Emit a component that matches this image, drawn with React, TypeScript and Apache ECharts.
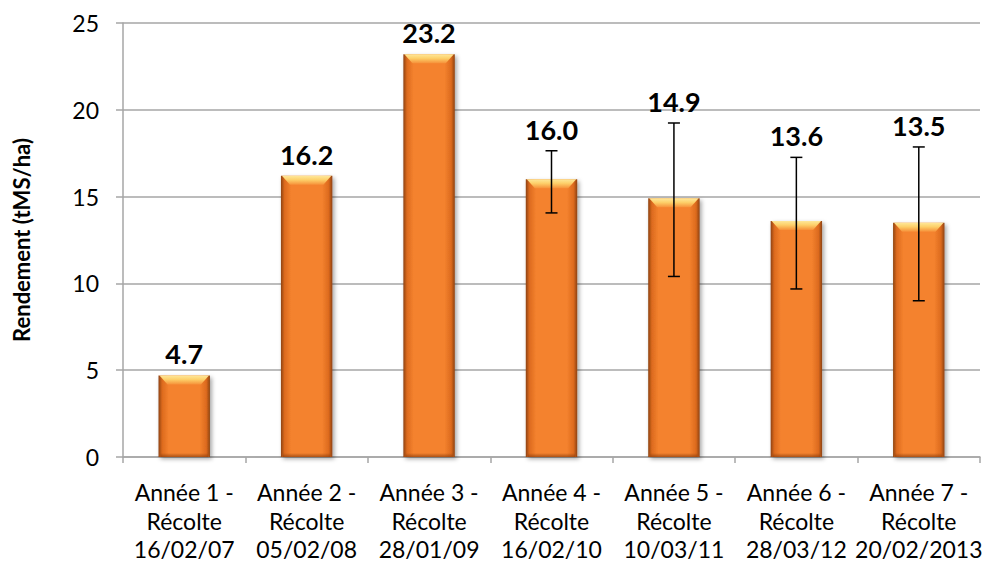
import React, { useEffect, useRef } from "react";
import * as echarts from "echarts";

const categories = [
  "Année 1 -\nRécolte\n16/02/07",
  "Année 2 -\nRécolte\n05/02/08",
  "Année 3 -\nRécolte\n28/01/09",
  "Année 4 -\nRécolte\n16/02/10",
  "Année 5 -\nRécolte\n10/03/11",
  "Année 6 -\nRécolte\n28/03/12",
  "Année 7 -\nRécolte\n20/02/2013",
];
const yields = [4.7, 16.2, 23.2, 16.0, 14.9, 13.6, 13.5];
const errLow: (number | null)[] = [null, null, null, 14.06, 10.4, 9.68, 9.0];
const errHigh: (number | null)[] = [null, null, null, 17.64, 19.24, 17.26, 17.86];
const yTicks = [0, 5, 10, 15, 20, 25];

const FONT = "Lato, 'Noto Sans', sans-serif";

export default function App() {
  const ref = useRef<HTMLDivElement>(null);
  useEffect(() => {
    if (!ref.current) return;
    const chart = echarts.init(ref.current, null, { renderer: "svg" });
    const barGrad = new echarts.graphic.LinearGradient(0, 0, 1, 0, [
      { offset: 0, color: "#8e4210" },
      { offset: 0.07, color: "#dc6a1e" },
      { offset: 0.2, color: "#f4822e" },
      { offset: 0.8, color: "#f4822e" },
      { offset: 0.93, color: "#dc6a1e" },
      { offset: 1, color: "#8e4210" },
    ]);
    const customData = yields.map((v, i) => [i, v, errLow[i] ?? NaN, errHigh[i] ?? NaN]);
    chart.setOption({
      animation: false,
      grid: { left: 123, right: 6, top: 23, bottom: 108, containLabel: false },
      xAxis: {
        type: "category",
        data: categories,
        axisLine: { lineStyle: { color: "#a6a6a6", width: 1.5 } },
        axisTick: { show: true, length: 6, lineStyle: { color: "#a6a6a6", width: 1.5 } },
        axisLabel: {
          color: "#000",
          fontFamily: FONT,
          fontSize: 23,
          lineHeight: 28.5,
          margin: 21,
          interval: 0,
        },
      },
      yAxis: {
        type: "value",
        min: yTicks[0],
        max: yTicks[yTicks.length - 1],
        interval: 5,
        name: "Rendement (tMS/ha)",
        nameLocation: "middle",
        nameRotate: 90,
        nameGap: 91,
        nameTextStyle: { color: "#000", fontFamily: FONT, fontSize: 22, fontWeight: "bold" },
        axisLine: { show: true, lineStyle: { color: "#a6a6a6", width: 1.5 } },
        axisTick: { show: true, length: 7, lineStyle: { color: "#a6a6a6", width: 1.5 } },
        axisLabel: { color: "#000", fontFamily: FONT, fontSize: 23, margin: 24 },
        splitLine: { lineStyle: { color: "#a6a6a6", width: 1.5 } },
      },
      series: [
        {
          type: "bar",
          data: yields,
          barWidth: "42%",
          itemStyle: {
            color: barGrad,
            shadowColor: "rgba(0,0,0,0.35)",
            shadowBlur: 4,
            shadowOffsetX: 2,
            shadowOffsetY: 2,
          },
          z: 2,
        },
        {
          type: "custom",
          data: customData,
          z: 5,
          renderItem: (params: any, api: any) => {
            const i = api.value(0);
            const v = api.value(1);
            const lo = api.value(2);
            const hi = api.value(3);
            const band = api.size([1, 0])[0];
            const bw = band * 0.42;
            const base = api.coord([i, 0]);
            const top = api.coord([i, v]);
            const cx = base[0];
            const x0 = cx - bw / 2;
            const x1 = cx + bw / 2;
            const children: any[] = [];
            children.push({
              type: "polygon",
              shape: {
                points: [
                  [x0 + 1, top[1]],
                  [x1 - 1, top[1]],
                  [x1 - 9, top[1] + 9],
                  [x0 + 9, top[1] + 9],
                ],
              },
              style: {
                fill: new echarts.graphic.LinearGradient(0, 0, 0, 1, [
                  { offset: 0, color: "#fee89a" },
                  { offset: 0.45, color: "#fdd06a" },
                  { offset: 1, color: "#f6913a" },
                ]),
              },
            });
            children.push({
              type: "rect",
              shape: { x: x0 + 2, y: base[1] - 4, width: bw - 4, height: 4 },
              style: {
                fill: new echarts.graphic.LinearGradient(0, 0, 0, 1, [
                  { offset: 0, color: "rgba(140,60,10,0)" },
                  { offset: 1, color: "rgba(140,60,10,0.7)" },
                ]),
              },
            });
            let anchorVal = v;
            if (!isNaN(lo) && !isNaN(hi)) {
              const pLo = api.coord([i, lo]);
              const pHi = api.coord([i, hi]);
              const st = { stroke: "#000", lineWidth: 1.5 };
              children.push({ type: "line", shape: { x1: cx, y1: pLo[1], x2: cx, y2: pHi[1] }, style: st });
              children.push({ type: "line", shape: { x1: cx - 6, y1: pLo[1], x2: cx + 6, y2: pLo[1] }, style: st });
              children.push({ type: "line", shape: { x1: cx - 6, y1: pHi[1], x2: cx + 6, y2: pHi[1] }, style: st });
              anchorVal = Math.max(v, hi);
            }
            const a = api.coord([i, anchorVal]);
            children.push({
              type: "text",
              x: cx,
              y: a[1] - 8,
              style: {
                text: v.toFixed(1),
                fill: "#000",
                font: `bold 27px ${FONT}`,
                align: "center",
                verticalAlign: "bottom",
              },
            });
            return { type: "group", children };
          },
        },
      ],
    });
    return () => chart.dispose();
  }, []);
  return <div ref={ref} style={{ width: 986, height: 565, position: "absolute", left: 0, top: 0 }} />;
}
